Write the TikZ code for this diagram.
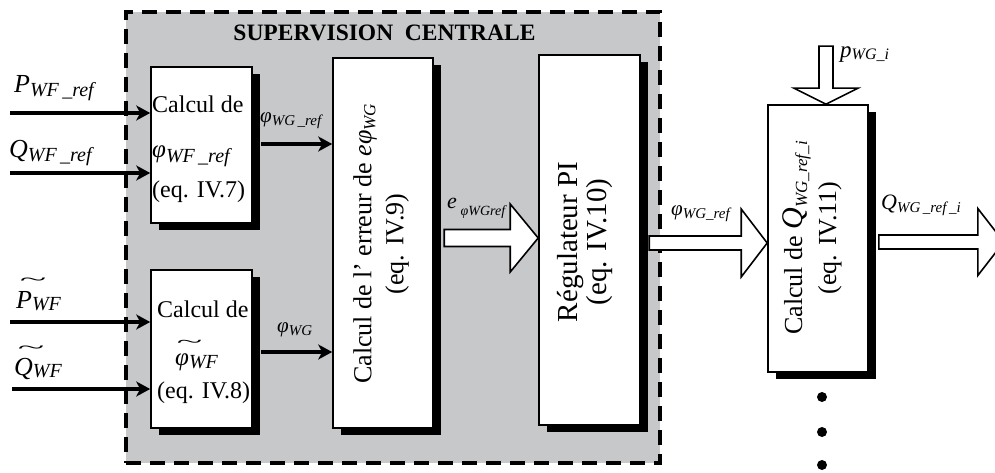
\documentclass[tikz,border=0pt]{standalone}
\usepackage{fontspec}
\setmainfont{Liberation Serif}
\usepackage{graphicx}
\usetikzlibrary{shadows,arrows.meta,calc}
\definecolor{supgray}{RGB}{199,200,202}
\newcommand\fs[1]{\fontsize{#1}{#1}\selectfont}
\newcommand\sub[3]{\raisebox{-#1pt}{\fs{#2}\itshape #3}}
\newcommand\tld[3]{\rlap{\hspace{#2}\raisebox{#3}{\scalebox{1.9}[0.7]{\char"7E}}}#1}
\begin{document}
\begin{tikzpicture}[x=1pt,y=-1pt,
  box/.style={draw,line width=1.6pt,fill=white,inner sep=0pt,
     drop shadow={shadow xshift=8pt,shadow yshift=-7pt,opacity=1,fill=black}},
  thinarrow/.style={line width=3.5pt,-{Stealth[length=14pt,width=15pt,inset=4pt]}},
  barrow/.style={draw,line width=1.6pt,fill=white,line join=miter},
  lbl/.style={inner sep=0pt,anchor=base west},
  dot/.style={circle,fill=black,minimum size=10pt,inner sep=0pt}]
\useasboundingbox (0,0) rectangle (995,473);
\clip (0,0) rectangle (995,473);

\node[draw,fill=supgray,line width=3.5pt,dash pattern=on 15pt off 9pt,
  minimum width=534pt,minimum height=451pt,inner sep=0pt] (sup) at (393,237.5) {};
\node[font=\fs{23.5}\bfseries,inner sep=0pt] (title) at (384.5,33) {SUPERVISION\ \ CENTRALE};

% boxes
\node[box,minimum width=101pt,minimum height=156pt] (b1) at (201.5,145) {};
\node[box,minimum width=101pt,minimum height=158pt] (b2) at (201.5,349) {};
\node[box,minimum width=100pt,minimum height=370pt] (b3) at (383,243) {};
\node[box,minimum width=101pt,minimum height=370pt] (b4) at (589.5,240) {};
\node[box,minimum width=100pt,minimum height=267pt] (b5) at (818,238.5) {};

% box 1 text
\node[lbl] (t1a) at (152,113) {\fs{24}Calcul de};
\node[lbl] (t1b) at (152,158) {\fs{25}\itshape φ\sub{5}{20}{WF\,\_ref}};
\node[lbl] (t1c) at (152,197) {\fs{24}(eq. IV.7)};
% box 2 text
\node[lbl] (t2a) at (157,317) {\fs{24}Calcul de};
\node[lbl] (t2b) at (175,365) {\fs{25}\itshape \tld{φ}{1pt}{18pt}\sub{3}{20}{WF}};
\node[lbl] (t2c) at (157,398) {\fs{24}(eq. IV.8)};

% rotated texts
\node[rotate=90,align=center,font=\fontsize{26}{32}\selectfont,inner sep=0pt] (t3) at (381,244)
  {Calcul de l’ erreur de {\itshape eφ\sub{4}{17}{WG}}\\(eq. IV.9)};
\node[rotate=90,align=center,font=\fontsize{29}{29}\selectfont,inner sep=0pt] (t4) at (585,242)
  {Régulateur PI\\(eq. IV.10)};
\node[rotate=90,align=center,font=\fontsize{26}{34}\selectfont,inner sep=0pt] (t5) at (812,238)
  {Calcul de {\itshape\fs{30}Q\sub{5}{17}{WG\_ref\_i}}\\(eq. IV.11)};

% input labels
\node[lbl] (lp) at (14,93) {\fs{26}\itshape P\sub{4}{20}{WF\,\_ref}};
\node[lbl] (lq) at (9,158) {\fs{26}\itshape Q\sub{4}{20}{WF\,\_ref}};
\node[lbl] (lpt) at (16,308) {\fs{26}\itshape \tld{P}{3pt}{23pt}\sub{2}{20}{WF}};
\node[lbl] (lqt) at (14,375) {\fs{26}\itshape \tld{Q}{3pt}{22pt}\sub{2}{20}{WF}};

% input arrows
\coordinate (i1) at (10,113);
\coordinate (i2) at (10,173);
\coordinate (i3) at (10,322);
\coordinate (i4) at (12,389);
\draw[thinarrow] (i1) -- (b1.west |- i1);
\draw[thinarrow] (i2) -- (b1.west |- i2);
\draw[thinarrow] (i3) -- (b2.west |- i3);
\draw[thinarrow] (i4) -- (b2.west |- i4);

% inner arrows
\coordinate (o1) at ([xshift=8pt,yshift=1pt]b1.east);
\coordinate (o2) at ([xshift=8pt,yshift=-3pt]b2.east);
\draw[thinarrow] (o1) -- (b3.west |- o1);
\draw[thinarrow] (o2) -- (b3.west |- o2);

% arrow labels
\node[lbl] (l1) at (260,123) {\fs{21}\itshape φ\sub{3}{15}{WG\,\_ref}};
\node[lbl] (l2) at (277,332) {\fs{21}\itshape φ\sub{3}{15}{WG}};
\node[lbl] (l3) at (447,208) {\fs{22}\itshape e\,\sub{7}{14}{φWGref}};
\node[lbl] (l4) at (671,215) {\fs{21}\itshape φ\sub{3}{15}{WG\_ref}};
\node[lbl] (l5) at (881,209) {\fs{22}\itshape Q\sub{3}{15}{WG\,\_ref\,\_i}};
\node[lbl] (l6) at (840,58) {\fs{23}\itshape p\sub{2}{16}{WG\_i}};

% block arrows
\coordinate (eT) at ([yshift=2pt]b4.west);
\draw[barrow] (eT) -- ++(-28,-34) -- ++(0,25.5) -- ++(-66,0) -- ++(0,17) -- ++(66,0) -- ++(0,25.5) -- cycle;
\coordinate (fT) at ([yshift=-4.5pt]b5.west);
\draw[barrow] (fT) -- ++(-26,-34) -- ++(0,27) -- ++(-92,0) -- ++(0,14) -- ++(92,0) -- ++(0,27) -- cycle;
\coordinate (oS) at ([xshift=10pt,yshift=-3.5pt]b5.east);
\draw[barrow] (oS) ++(0,-7) -- ++(99,0) -- ++(0,-26.5) -- ++(26,33.5) -- ++(-26,33.5) -- ++(0,-26.5) -- ++(-99,0) -- cycle;
\coordinate (pT) at ([xshift=8pt]b5.north);
\draw[barrow] (pT) -- ++(-32,-16) -- ++(25,0) -- ++(0,-42) -- ++(14,0) -- ++(0,42) -- ++(25,0) -- cycle;

% dots
\node[dot] (d1) at (822,397) {};
\node[dot] (d2) at (822,432) {};
\node[dot] (d3) at (822,465) {};
\end{tikzpicture}
\end{document}
